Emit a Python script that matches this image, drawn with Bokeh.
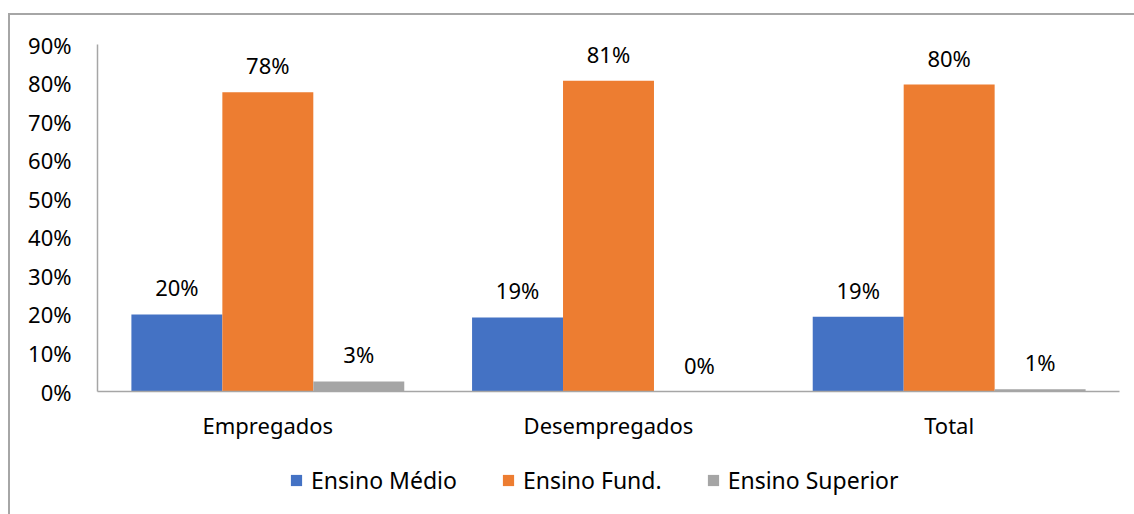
from bokeh.plotting import figure
from bokeh.layouts import column
from bokeh.models import ColumnDataSource, FactorRange, NumeralTickFormatter, Legend, LegendItem, FixedTicker
from bokeh.transform import dodge
from bokeh.core.properties import value
from bokeh.embed import file_html
from bokeh.resources import INLINE

categories = ["Empregados", "Desempregados", "Total"]
series = ["Ensino Médio", "Ensino Fund.", "Ensino Superior"]
medio = [0.200, 0.192, 0.194]
fund = [0.776, 0.806, 0.796]
superior = [0.026, 0.000, 0.006]
colors = ["#4472C4", "#ED7D31", "#A5A5A5"]
y_ticks = [0.0, 0.1, 0.2, 0.3, 0.4, 0.5, 0.6, 0.7, 0.8, 0.9]

FONT = "Noto Sans"
FS = "22px"
TXT = "#000000"

src = ColumnDataSource(data=dict(
    cat=categories,
    medio=medio, fund=fund, superior=superior,
    medio_l=[f"{round(v*100):.0f}%" for v in medio],
    fund_l=[f"{round(v*100):.0f}%" for v in fund],
    superior_l=[f"{round(v*100):.0f}%" for v in superior],
))

W = 1124
p = figure(x_range=FactorRange(*categories), y_range=(0, 0.9),
           width=W, height=444, output_backend="svg", toolbar_location=None,
           min_border_left=87, min_border_right=15, min_border_top=29, min_border_bottom=68)
p.outline_line_color = None
p.xgrid.grid_line_color = None
p.ygrid.grid_line_color = None

bw = 0.267
keys = ["medio", "fund", "superior"]
offsets = [-bw, 0.0, bw]
for k, off, c in zip(keys, offsets, colors):
    p.vbar(x=dodge("cat", off, range=p.x_range), top=k, width=bw, source=src,
           fill_color=c, line_color=None)
    p.text(x=dodge("cat", off, range=p.x_range), y=k, text=k + "_l", source=src,
           text_align="center", text_baseline="middle", y_offset=-27,
           text_font=value(FONT), text_font_size=FS, text_color=TXT)

p.yaxis.ticker = FixedTicker(ticks=y_ticks)
p.yaxis.formatter = NumeralTickFormatter(format="0%")
for ax in (p.xaxis[0], p.yaxis[0]):
    ax.major_tick_line_color = None
    ax.minor_tick_line_color = None
    ax.axis_line_color = "#a6a6a6"
    ax.axis_line_width = 1.5
    ax.major_label_text_font = FONT
    ax.major_label_text_font_size = FS
    ax.major_label_text_color = TXT
p.yaxis.major_label_standoff = 20
p.xaxis.major_label_standoff = 12

# legend strip below the chart (legend swatches use zero-height stand-in bars)
lg = figure(width=W, height=55, output_backend="svg", toolbar_location=None,
            x_range=(0, 1), y_range=(0, 1),
            min_border_left=0, min_border_right=0, min_border_top=0, min_border_bottom=0)
lg.axis.visible = False
lg.grid.visible = False
lg.outline_line_color = None
leg_src = ColumnDataSource(data=dict(x=[0.5], top=[0.0]))
leg_renderers = [lg.vbar(x="x", top="top", bottom=0, width=0.01, source=leg_src,
                         fill_color=c, line_color=None) for c in colors]

legend = Legend(items=[LegendItem(label=s, renderers=[r]) for s, r in zip(series, leg_renderers)],
                orientation="horizontal", location=(192, 18))
legend.glyph_width = 14
legend.glyph_height = 14
legend.label_standoff = 8
legend.spacing = 44
legend.padding = 0
legend.margin = 0
legend.border_line_color = None
legend.background_fill_alpha = 0
legend.label_text_font = FONT
legend.label_text_font_size = "23px"
legend.label_text_color = TXT
lg.add_layout(legend, "center")

layout = column(p, lg, spacing=0)
layout.margin = (13, 0, 0, 8)
layout.styles = {"border-top": "2px solid #a6a6a6", "border-left": "2px solid #a6a6a6"}

open("out.html", "w").write(file_html(layout, INLINE))
